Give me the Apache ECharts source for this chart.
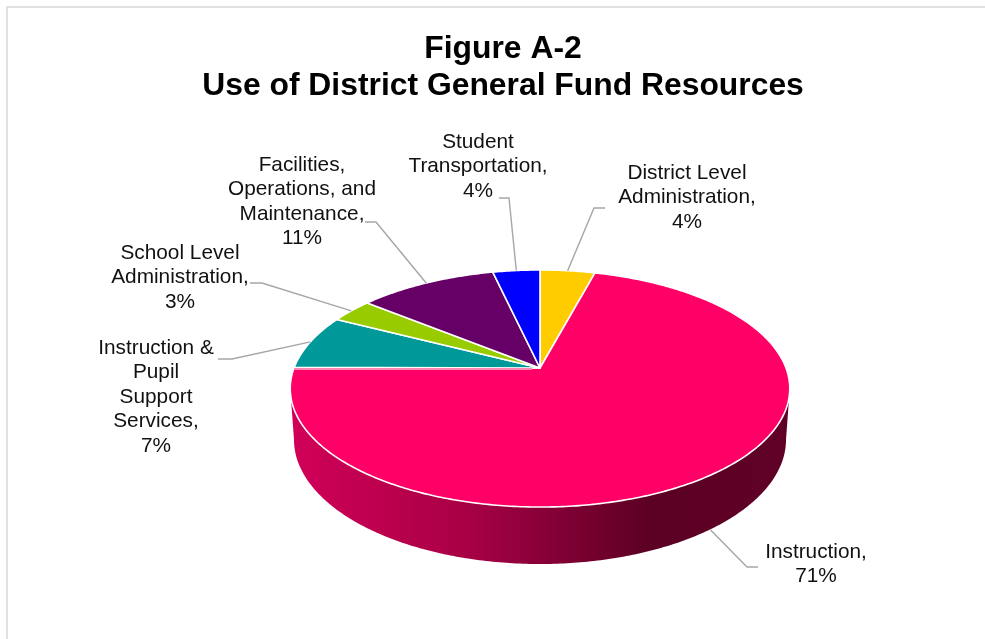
<!DOCTYPE html>
<html>
<head>
<meta charset="utf-8">
<style>html,body{margin:0;padding:0;background:#fff}#c{width:985px;height:639px}</style>
<script src="https://cdn.jsdelivr.net/npm/echarts@6/dist/echarts.min.js"></script>
</head>
<body>
<div id="c"></div>
<script>
// ---- data ----
const categories = [
  'District Level\nAdministration',
  'Instruction',
  'Instruction &\nPupil\nSupport\nServices',
  'School Level\nAdministration',
  'Facilities,\nOperations, and\nMaintenance',
  'Student\nTransportation'
];
// shares; the labels show them rounded
const shares = [4.2, 70.9, 7.4, 3.3, 10.6, 3.6];
const titleLines = ['Figure A-2', 'Use of District General Fund Resources'];

// ---- styles and layout (kept apart from the data) ----
const sliceColors = ['#ffcc00', '#ff0066', '#009999', '#99cc00', '#660066', '#0000ff'];
const labelCenters = [[687, 173], [816, 552], [156, 348], [180, 253], [302, 165], [478, 142]];
const leaderElbows = [
  [[605, 208], [594, 208]],
  [[758, 567], [747, 567]],
  [[218, 359], [232, 359]],
  [[250, 283], [262, 283]],
  [[365, 222], [376, 222]],
  [[499, 198], [509, 198]]
];
const FONT = '"Liberation Sans", Arial, sans-serif';
const CX = 540, AY = 368, R = 246, PERSP = 0.173, SQUASH = 115;
const BASE_X = 0.985, BASE_Y = 1.05, BASE_AY = 418;
const WALL_FROM = 100, WALL_TO = 260; // where the disc's outline is widest

// perspective projection of a point of the pie's disc, angle clockwise from 12 o'clock
function topPoint(deg) {
  const t = deg * Math.PI / 180, u = Math.sin(t), v = -Math.cos(t), d = 1 - PERSP * v;
  return [CX + R * u / d, AY + SQUASH * v / d];
}
function basePoint(deg) {
  const p = topPoint(deg);
  return [CX + (p[0] - CX) * BASE_X, BASE_AY + (p[1] - AY) * BASE_Y];
}
function arc(fn, a, b) {
  const n = Math.max(2, Math.ceil(Math.abs(b - a) * 1.5)), out = [];
  for (let i = 0; i <= n; i++) out.push(fn(a + (b - a) * i / n));
  return out;
}
const total = shares.reduce((s, x) => s + x, 0);
const starts = [];
shares.reduce((s, x, i) => (starts[i] = s, s + x), 0);
const angle = p => p / total * 360;

function renderItem(params) {
  const i = params.dataIndex;
  const a = angle(starts[i]), b = angle(starts[i] + shares[i]), mid = (a + b) / 2;
  const children = [];

  // visible wall: the front part of the pie only
  const wa = Math.max(a, WALL_FROM), wb = Math.min(b, WALL_TO);
  if (wb > wa) {
    children.push({
      type: 'polygon',
      shape: { points: arc(topPoint, wa, wb).concat(arc(basePoint, wb, wa)) },
      style: {
        fill: {
          type: 'linear', x: 292, y: 0, x2: 790, y2: 0, global: true,
          colorStops: [
            { offset: 0, color: '#d10058' },
            { offset: 0.35, color: '#a80045' },
            { offset: 0.72, color: '#5c0024' },
            { offset: 1, color: '#600028' }
          ]
        }
      }
    });
  }
  // top face
  children.push({
    type: 'polygon',
    z2: 2,
    shape: { points: [[CX, AY]].concat(arc(topPoint, a, b)) },
    style: { fill: sliceColors[i], stroke: '#ffffff', lineWidth: 1.6, lineJoin: 'round' }
  });
  // pale rim of the big slice where it meets the next one
  if (shares[i] > 50) {
    const e = topPoint(b);
    children.push({
      type: 'line',
      z2: 5,
      shape: { x1: e[0], y1: AY + 1, x2: CX - 8, y2: AY + 1 },
      style: { stroke: '#ff85b0', lineWidth: 2 }
    });
  }
  // leader line, anchored on the slice's mid angle
  const front = mid > 90 && mid < 270;
  const anchor = front ? basePoint(mid) : topPoint(mid);
  children.push({
    type: 'polyline',
    z2: 6,
    shape: { points: leaderElbows[i].concat([anchor]) },
    style: { stroke: '#a6a6a6', lineWidth: 1.4, fill: null }
  });
  // label
  children.push({
    type: 'text',
    z2: 7,
    style: {
      text: categories[i] + ',\n' + Math.round(shares[i]) + '%',
      x: labelCenters[i][0], y: labelCenters[i][1] - 12.25,
      textAlign: 'center', textVerticalAlign: 'top',
      font: '20.8px ' + FONT, lineHeight: 24.5, fill: '#111111'
    }
  });
  return { type: 'group', children };
}

const chart = echarts.init(document.getElementById('c'), null, { renderer: 'canvas' });
chart.setOption({
  animation: false,
  backgroundColor: '#ffffff',
  title: {
    text: titleLines.join('\n'),
    left: 498, top: 26, textAlign: 'center',
    textStyle: { fontFamily: FONT, fontSize: 31.85, fontWeight: 'bold', color: '#000000', lineHeight: 37 }
  },
  graphic: [
    { type: 'line', shape: { x1: 6, y1: 7, x2: 985, y2: 7 }, style: { stroke: '#e0e0e0', lineWidth: 2 } },
    { type: 'line', shape: { x1: 7, y1: 6, x2: 7, y2: 639 }, style: { stroke: '#e0e0e0', lineWidth: 2 } }
  ],
  series: [{
    type: 'custom',
    coordinateSystem: 'none',
    silent: true,
    renderItem,
    data: shares
  }]
});
</script>
</body>
</html>
